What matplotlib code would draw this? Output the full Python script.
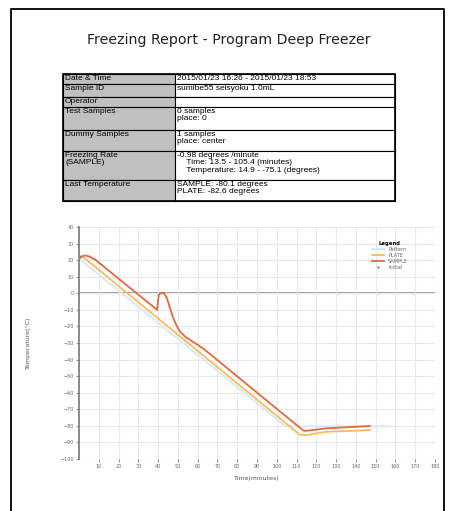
import matplotlib.pyplot as plt
from matplotlib.patches import Rectangle

# ---- report table ----
row_labels = ["Date & Time", "Sample ID", "Operator", "Test Samples", "Dummy Samples",
              "Freezing Rate\n(SAMPLE)", "Last Temperature"]
row_values = ["2015/01/23 16:26 - 2015/01/23 18:53",
              "sumibe55 seisyoku 1.0mL",
              "",
              "0 samples\nplace: 0",
              "1 samples\nplace: center",
              "-0.98 degrees /minute\n    Time: 13.5 - 105.4 (minutes)\n    Temperature: 14.9 - -75.1 (degrees)",
              "SAMPLE: -80.1 degrees\nPLATE: -82.6 degrees"]

# ---- temperature curves (minutes, degC) ----
pattern_t = [0, 104.5, 157]
pattern_T = [21.0, -80.3, -80.3]

plate_t = [0.5, 2, 111.8, 115, 125, 147]
plate_T = [22.0, 22.0, -85.5, -85.6, -83.6, -82.6]

sample_t = [0.5, 3, 5, 8, 39.5, 40.3, 41, 43, 44.5, 46, 47.7, 49.5, 51, 54, 58, 63,
            113.5, 115, 125, 147]
sample_T = [22.0, 22.8, 22.3, 20.5, -10.0, -1.0, 0.0, 0.0, -3.0, -9.0, -15.0, -20.0,
            -23.0, -26.5, -29.5, -33.5, -82.9, -83.0, -81.5, -80.1]

initial_t = [0.5]
initial_T = [22.0]

W, H = 454, 511
fig = plt.figure(figsize=(W / 100, H / 100), dpi=100)

# overlay in pixel coordinates
page = fig.add_axes([0, 0, 1, 1])
page.set_xlim(0, W)
page.set_ylim(H, 0)
page.axis("off")

# page border
page.plot([11, 11, 444, 444], [H + 5, 9, 9, H + 5], color="black", lw=1.3)

page.text(229, 40, "Freezing Report - Program Deep Freezer", ha="center", va="center",
          fontsize=10.2, family="DejaVu Sans", color="#222222")

x0, x1, x2 = 63, 175, 395
edges = [74, 84, 97, 107, 130, 151, 180, 201]
for i, (lab, val) in enumerate(zip(row_labels, row_values)):
    top, bot = edges[i], edges[i + 1]
    page.add_patch(Rectangle((x0, top), x1 - x0, bot - top, fc="#c0c0c0", ec="black", lw=0.8))
    page.add_patch(Rectangle((x1, top), x2 - x1, bot - top, fc="white", ec="black", lw=0.8))
    page.text(x0 + 2, top + 1, lab, ha="left", va="top", fontsize=6, family="Liberation Sans",
              linespacing=1.05)
    page.text(x1 + 2, top + 1, val, ha="left", va="top", fontsize=6, family="Liberation Sans",
              linespacing=1.05)
page.add_patch(Rectangle((x0, edges[0]), x2 - x0, edges[-1] - edges[0], fill=False,
                         ec="black", lw=1.2))

# ---- chart ----
ax_l, ax_r, ax_t, ax_b = 79, 435, 227, 459
ax = fig.add_axes([ax_l / W, 1 - ax_b / H, (ax_r - ax_l) / W, (ax_b - ax_t) / H])
ax.set_xlim(0, 180)
ax.set_ylim(-100, 40)
ax.set_xticks(range(10, 181, 10))
ax.set_yticks(range(-100, 41, 10))
ax.grid(True, color="#e8e8e8", lw=0.8)
for s in ["top", "right", "bottom"]:
    ax.spines[s].set_visible(False)
ax.spines["left"].set_color("#777777")
ax.spines["left"].set_linewidth(1.2)
ax.axhline(0, color="#999999", lw=1.3, zorder=1)
ax.tick_params(labelsize=3.5, colors="#666666", length=2, width=0.5, pad=1.5)

ax.plot(pattern_t, pattern_T, color="#d4e8f7", lw=1.3, label="Pattern", zorder=2)
ax.plot(plate_t, plate_T, color="#fdbb55", lw=1.3, label="PLATE", zorder=3)
ax.plot(sample_t, sample_T, color="#e5683f", lw=1.3, label="SAMPLE", zorder=4)
ax.plot(initial_t, initial_T, ls="none", marker=".", ms=1.5, color="#888888", label="Initial", zorder=5)

ax.set_xlabel("Time(minutes)", fontsize=4.5, color="#555555", labelpad=5)
ax.set_ylabel("Temperature(\u00b0C)", fontsize=4.5, color="#555555", labelpad=21)

leg = ax.legend(loc="upper right", bbox_to_anchor=(0.93, 0.95), title="Legend", frameon=False,
                fontsize=3.6, title_fontproperties={"size": 3.8, "weight": "bold"},
                handlelength=2.5, labelspacing=0.2, borderaxespad=0)
for txt in leg.get_texts():
    txt.set_color("#666666")

fig.savefig("out.png", dpi=100)
